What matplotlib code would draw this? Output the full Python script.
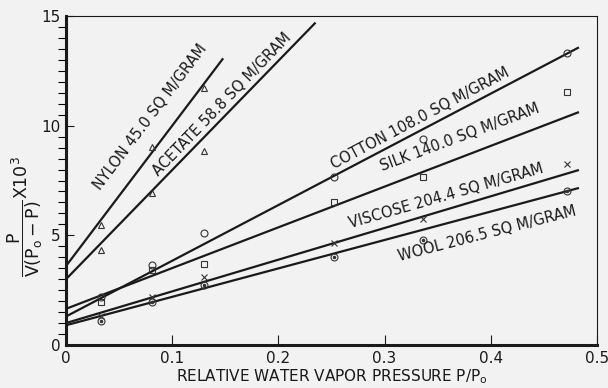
import matplotlib
matplotlib.use('Agg')
import matplotlib.pyplot as plt
import numpy as np

plt.rcParams['mathtext.fontset'] = 'dejavusans'

# relative pressure at which the points were measured
p_rel = [0.033, 0.081, 0.13, 0.252, 0.336, 0.472]

# measured points, P / V(Po-P) x 10^3
nylon_y = [5.45, 9.05, 11.7]
acetate_y = [4.35, 6.95, 8.85]
cotton_y = [2.2, 3.65, 5.1, 7.65, 9.4, 13.3]
silk_y = [1.95, 3.4, 3.7, 6.5, 7.65, 11.55]
viscose_y = [1.3, 2.2, 3.1, 4.65, 5.75, 8.25]
wool_y = [1.1, 1.95, 2.75, 4.0, 4.8, 7.0]

# fitted straight lines: (x start, y start, x end, y end)
nylon_fit = [0.0, 3.6, 0.148, 13.07]
acetate_fit = [0.0, 3.0, 0.235, 14.7]
cotton_fit = [0.0, 1.3, 0.483, 13.57]
silk_fit = [0.0, 1.65, 0.483, 10.62]
viscose_fit = [0.0, 1.0, 0.483, 7.98]
wool_fit = [0.0, 0.9, 0.483, 7.16]

labels = ['NYLON 45.0 SQ M/GRAM', 'ACETATE 58.8 SQ M/GRAM',
          'COTTON 108.0 SQ M/GRAM', 'SILK 140.0 SQ M/GRAM',
          'VISCOSE 204.4 SQ M/GRAM', 'WOOL 206.5 SQ M/GRAM']

bg = '#f2f2f2'
ink = '#1a1a1a'

fig = plt.figure(figsize=(6.08, 3.88), dpi=100, facecolor=bg)
ax = fig.add_axes([66/608, 1 - 345/388, (597 - 66)/608, (345 - 16)/388])
ax.set_facecolor(bg)

for fit in [nylon_fit, acetate_fit, cotton_fit, silk_fit, viscose_fit, wool_fit]:
    ax.plot([fit[0], fit[2]], [fit[1], fit[3]], color=ink, lw=1.6, solid_capstyle='butt')

mk = dict(linestyle='none', mfc='none', mec='#333333', ms=5, mew=0.8)
ax.plot(p_rel[:3], nylon_y, marker='^', **mk)
ax.plot(p_rel[:3], acetate_y, marker='^', **mk)
ax.plot(p_rel, cotton_y, marker='o', **mk)
ax.plot(p_rel, silk_y, marker='s', **mk)
ax.plot(p_rel, viscose_y, marker='x', linestyle='none', color='#333333', ms=4, mew=0.8)
ax.plot(p_rel, wool_y, marker='o', **mk)
ax.plot(p_rel, wool_y, marker='.', linestyle='none', color='#333333', ms=3)

# labels written along the lines
txt = dict(fontsize=10.5, color=ink, rotation_mode='anchor', ha='left', va='bottom')
ax.text(0.035, 6.95, labels[0], rotation=53, **txt)
ax.text(0.089, 7.6, labels[1], rotation=46, **txt)
ax.text(0.254, 7.9, labels[2], rotation=28, **txt)
ax.text(0.299, 7.8, labels[3], rotation=20.5, **txt)
ax.text(0.269, 5.2, labels[4], rotation=16, **txt)
ax.text(0.315, 3.7, labels[5], rotation=14.5, **txt)

ax.set_xlim(0, 0.5)
ax.set_ylim(0, 15)
ax.set_xticks([0, 0.1, 0.2, 0.3, 0.4, 0.5])
ax.set_xticklabels(['0', '0.1', '0.2', '0.3', '0.4', '0.5'])
ax.set_yticks([0, 5, 10, 15])
ax.set_yticks(np.arange(0, 15, 0.5), minor=True)
ax.tick_params(axis='both', direction='in', labelsize=11, colors=ink)
ax.tick_params(axis='x', length=7, width=0.8, pad=4)
ax.tick_params(axis='y', which='major', length=6, width=0.8, pad=4)
ax.tick_params(axis='y', which='minor', length=6, width=0.8)

for side in ['left', 'bottom']:
    ax.spines[side].set_linewidth(2.2)
for side in ['right', 'top']:
    ax.spines[side].set_linewidth(0.8)
for s in ax.spines.values():
    s.set_color(ink)

ax.set_xlabel('RELATIVE WATER VAPOR PRESSURE P/P$_\\mathregular{o}$', fontsize=11, color=ink, labelpad=1)
ax.set_ylabel(r'$\dfrac{\mathregular{P}}{\mathregular{V(P_o-P)}}\mathregular{X10^3}$',
              fontsize=12.5, color=ink)
ax.yaxis.set_label_coords(-0.04, 0.39)

fig.savefig('out.png', dpi=100, facecolor=bg)
